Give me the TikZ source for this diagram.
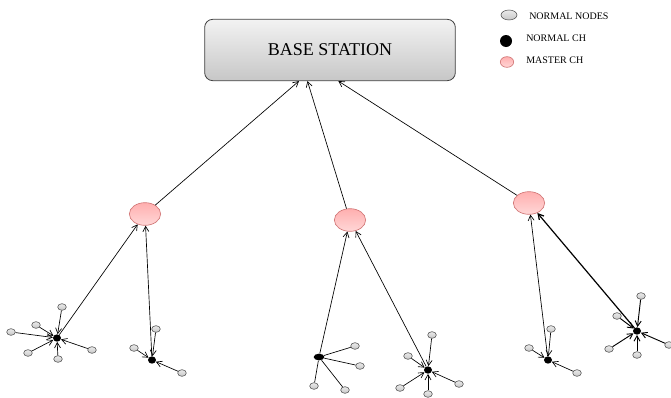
\documentclass[tikz,border=0pt]{standalone}
\usepackage{fontspec}
\setmainfont{Liberation Serif}
\usetikzlibrary{shapes.geometric,arrows.meta}

\begin{document}
\begin{tikzpicture}[x=0.75pt,y=0.75pt,yscale=-1,
  >={Straight Barb[length=4pt,width=4.5pt]},
  link/.style={draw=black,line width=0.5pt},
  bsbox/.style={draw=black!75,rounded corners=6pt,line width=0.6pt,top color=black!5,bottom color=black!22,minimum width=188pt,minimum height=46pt,font=\fontsize{13.5}{15}\selectfont},
  mnode/.style={ellipse,draw={rgb,255:red,210;green,120;blue,120},line width=0.5pt,top color={rgb,255:red,255;green,175;blue,175},bottom color={rgb,255:red,255;green,215;blue,215},minimum width=23.5pt,minimum height=17pt,inner sep=0pt},
  chnode/.style={ellipse,fill=black,minimum width=6pt,minimum height=5.5pt,inner sep=0pt},
  nnode/.style={ellipse,draw=black!70,line width=0.4pt,top color=black!8,bottom color=black!22,minimum width=6.5pt,minimum height=5pt,inner sep=0pt},
  legtext/.style={anchor=west,inner sep=0.75pt,font=\fontsize{7.5}{8.5}\selectfont}]
%set diagram size
\path[use as bounding box] (0,0) rectangle (671,397);

%Shape: Rounded Rect
\node[bsbox] (bs) at (330,50) {BASE STATION};

%Legend
\node[nnode,minimum width=12pt,minimum height=7.5pt] (lgnn) at (509,15) {};
\node[chnode,minimum width=9pt,minimum height=9pt] (lgch) at (506,41) {};
\node[mnode,minimum width=10pt,minimum height=8pt] (lgm) at (507,62) {};
% Text Node
\node[legtext] (lgnnt) at (528,16) {NORMAL NODES};
% Text Node
\node[legtext] (lgcht) at (525,38) {NORMAL CH};
% Text Node
\node[legtext] (lgmt) at (525,60) {MASTER CH};

%Shape: Ellipse (master CH)
\node[mnode] (m1) at (145,214) {};
\node[mnode] (m2) at (350,220) {};
\node[mnode] (m3) at (529,203) {};

%Straight Lines
\draw[link,->] (m1) -- (bs.225);
\draw[link,->] (m2) -- (bs.234);
\draw[link,->] (m3) -- (bs.285);

%Cluster heads
\node[chnode] (c1) at (57,338) {};
\node[chnode] (c2) at (152,360) {};
\node[chnode,minimum width=8pt,minimum height=5pt] (c3) at (319,357) {};
\node[chnode] (c4) at (428,370) {};
\node[chnode] (c5) at (548,360) {};
\node[chnode] (c6) at (637,331) {};

%Straight Lines
\draw[link,->] (c1) -- (m1);
\draw[link,->] (c2) -- (m1);
\draw[link,->] (c3) -- (m2);
\draw[link,->] (c4) -- (m2);
\draw[link,->] (c5) -- (m3);
\draw[link,->,line width=0.9pt] (c6) -- (m3);

%Normal nodes
\foreach \nm/\px/\py in {n11/62/307,n12/36/325,n13/11/332,n14/28/353,n15/58/359,n16/92/350,
    n21/156/329,n22/134/348,n23/182/373,
    n31/355/346,n32/360/366,n33/314/386,n34/345/390,
    n41/432/335,n42/408/356,n43/400/388,n44/428/394,n45/459/384,
    n51/551/329,n52/529/348,n53/577/373,
    n61/641/296,n62/617/316,n63/609/349,n64/637/355,n65/669/345}
  \node[nnode] (\nm) at (\px,\py) {};

%Straight Lines
\foreach \nm in {n11,n12,n13,n14,n15,n16}
  \draw[link,->] (\nm) -- (c1);
\foreach \nm in {n21,n22,n23}
  \draw[link,->] (\nm) -- (c2);
\foreach \nm in {n31,n32,n33,n34}
  \draw[link] (\nm) -- (c3);
\foreach \nm in {n41,n42,n43,n44,n45}
  \draw[link,->] (\nm) -- (c4);
\foreach \nm in {n51,n52,n53}
  \draw[link,->] (\nm) -- (c5);
\foreach \nm in {n61,n62,n63,n64,n65}
  \draw[link,->,line width=0.7pt] (\nm) -- (c6);

\end{tikzpicture}
\end{document}
